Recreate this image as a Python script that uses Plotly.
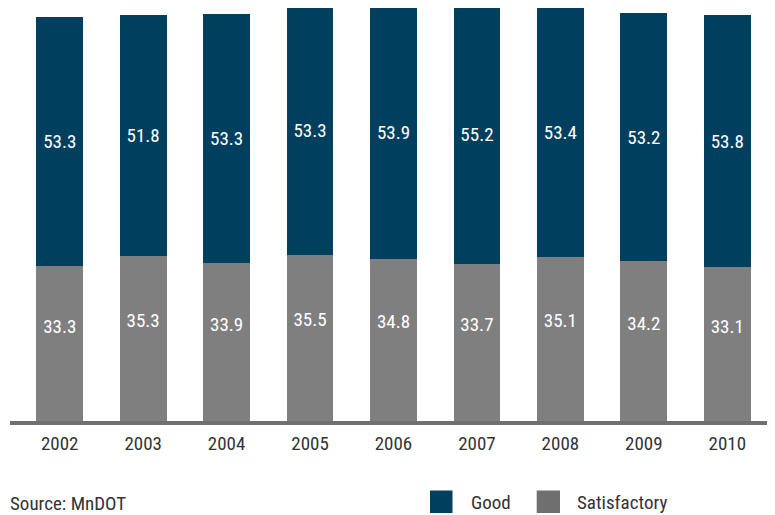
import plotly.graph_objects as go

years = ["2002", "2003", "2004", "2005", "2006", "2007", "2008", "2009", "2010"]
good = [53.3, 51.8, 53.3, 53.3, 53.9, 55.2, 53.4, 53.2, 53.8]
satisfactory = [33.3, 35.3, 33.9, 35.5, 34.8, 33.7, 35.1, 34.2, 33.1]

FONT = "Roboto Condensed, Liberation Sans Narrow, Roboto, sans-serif"
GOOD_C = "#003f5e"
SAT_C = "#7f7f7f"
OFF = 8  # page body margin
W, H = 775 - OFF, 515 - OFF
ML, MR, MT, MB = 10, 6, 0, 94
PW = W - ML - MR
PH = H - MT - MB
FS = 19

def px(x):
    return (x - OFF - ML) / PW

def py(y):
    return (H - MB - (y - OFF)) / PH

fig = go.Figure()
fig.add_trace(go.Bar(
    x=years, y=satisfactory, name="Satisfactory", marker=dict(color=SAT_C, line=dict(width=0)),
    showlegend=False, hoverinfo="skip"))
fig.add_trace(go.Bar(
    x=years, y=good, name="Good", marker=dict(color=GOOD_C, line=dict(width=0)),
    text=[f"{v:.1f}" for v in good], textposition="inside", insidetextanchor="middle",
    textangle=0, constraintext="none",
    textfont=dict(family=FONT, size=FS, color="white"),
    showlegend=False, hoverinfo="skip"))
fig.add_trace(go.Scatter(
    x=years, y=[v * 0.6 for v in satisfactory], mode="text",
    text=[f"{v:.1f}" for v in satisfactory],
    textfont=dict(family=FONT, size=FS, color="white"),
    showlegend=False, hoverinfo="skip"))

shapes = [
    dict(type="line", xref="paper", yref="paper", x0=px(10), x1=px(776),
         y0=py(423), y1=py(423), line=dict(color="#6f6f6f", width=4), layer="above"),
    dict(type="rect", xref="paper", yref="paper", x0=px(430), x1=px(452.5),
         y0=py(513), y1=py(490.5), fillcolor=GOOD_C, line=dict(width=0)),
    dict(type="rect", xref="paper", yref="paper", x0=px(536.7), x1=px(560),
         y0=py(513), y1=py(490.5), fillcolor="#6f6f6f", line=dict(width=0)),
]
annotations = [
    dict(text="Source: MnDOT", xref="paper", yref="paper", x=px(8), y=py(503),
         xanchor="left", yanchor="middle", showarrow=False,
         font=dict(family=FONT, size=FS, color="#333333")),
    dict(text="Good", xref="paper", yref="paper", x=px(469), y=py(502),
         xanchor="left", yanchor="middle", showarrow=False,
         font=dict(family=FONT, size=FS, color="#333333")),
    dict(text="Satisfactory", xref="paper", yref="paper", x=px(575), y=py(502),
         xanchor="left", yanchor="middle", showarrow=False,
         font=dict(family=FONT, size=FS, color="#333333")),
]

fig.update_layout(
    width=W, height=H, barmode="stack", bargap=0.44,
    margin=dict(l=ML, r=MR, t=MT, b=MB),
    paper_bgcolor="white", plot_bgcolor="white",
    font=dict(family=FONT, size=FS, color="#333333"),
    shapes=shapes, annotations=annotations,
    xaxis=dict(showline=False, showgrid=False, zeroline=False, ticks="",
               ticklabelstandoff=9,
               tickfont=dict(family=FONT, size=FS, color="#333333"), fixedrange=True),
    yaxis=dict(range=[0, 88.5], visible=False, showgrid=False, zeroline=False, fixedrange=True),
    showlegend=False,
)

fig.write_html("out.html")
